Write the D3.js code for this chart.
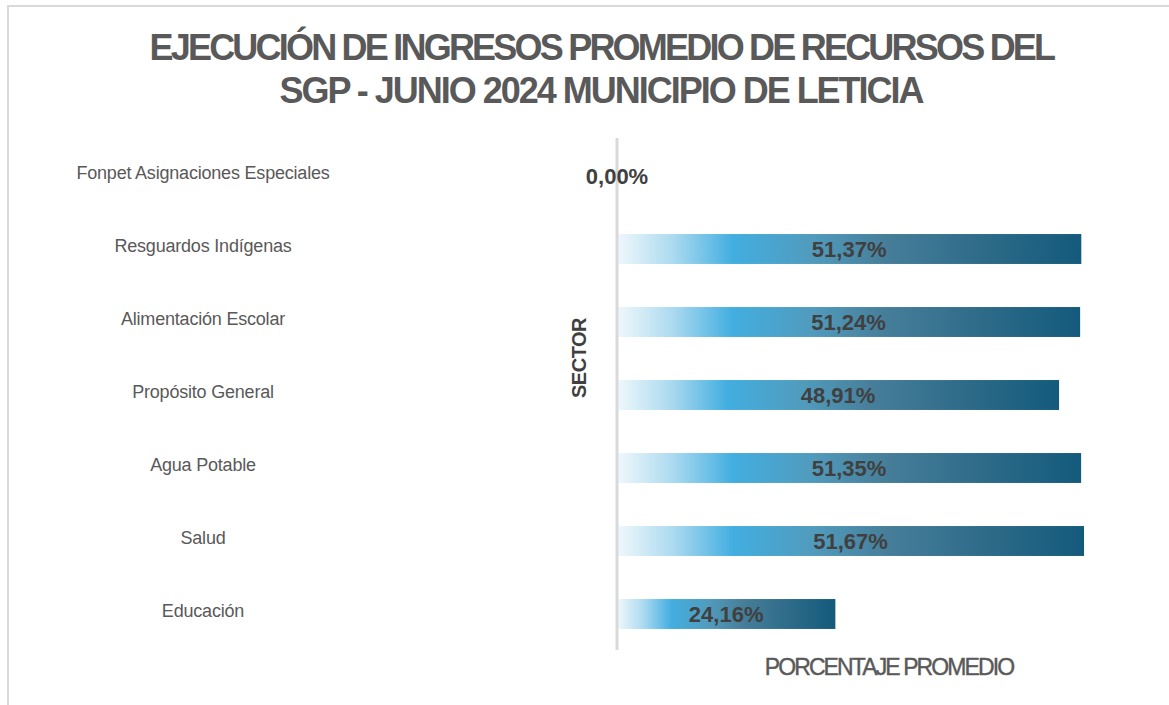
<!DOCTYPE html>
<html>
<head>
<meta charset="utf-8">
<script src="https://cdn.jsdelivr.net/npm/d3@7"></script>
<style>
  body { margin: 0; background: #fff; }
  text { font-family: "Liberation Sans", Arial, sans-serif; }
</style>
</head>
<body>
<div id="chart-area"></div>
<script>
// data
var sectores = ["Fonpet Asignaciones Especiales", "Resguardos Indígenas", "Alimentación Escolar",
  "Propósito General", "Agua Potable", "Salud", "Educación"];
var porcentajes = [0.00, 51.37, 51.24, 48.91, 51.35, 51.67, 24.16];
var etiquetas = ["0,00%", "51,37%", "51,24%", "48,91%", "51,35%", "51,67%", "24,16%"];
var titulo = ["EJECUCIÓN DE INGRESOS PROMEDIO DE RECURSOS DEL", "SGP - JUNIO 2024 MUNICIPIO DE LETICIA"];
var anchoTitulo = [904, 643];

var width = 1169, height = 705;

var svg = d3.select("#chart-area").append("svg")
  .attr("width", width)
  .attr("height", height);

// chart frame
svg.append("rect")
  .attr("x", 8).attr("y", 6)
  .attr("width", width + 10).attr("height", height)
  .attr("fill", "none")
  .attr("stroke", "#d9d9d9")
  .attr("stroke-width", 2);

var x = d3.scaleLinear().domain([0, 60]).range([617, 617 + 542.3]);
var y = d3.scaleBand().domain(sectores).range([139.5, 650.5])
  .paddingInner(0.59).paddingOuter(0.295);

// gradient for the bars
var grad = svg.append("defs").append("linearGradient")
  .attr("id", "barGrad")
  .attr("x1", "0%").attr("x2", "100%").attr("y1", "0%").attr("y2", "0%");
[[0, "#f0f8fb"], [0.12, "#acdaf0"], [0.25, "#42aee0"], [0.42, "#519bbd"],
 [0.58, "#467e99"], [0.8, "#2c6a88"], [1, "#145a7c"]].forEach(function(s) {
  grad.append("stop").attr("offset", s[0]).attr("stop-color", s[1]);
});

// title, tightened with letter-spacing to the reference width
svg.selectAll(".title").data(titulo).enter().append("text")
  .attr("class", "title")
  .attr("x", 600)
  .attr("y", function(d, i) { return 60 + i * 43; })
  .attr("text-anchor", "middle")
  .attr("font-size", "36px")
  .attr("font-weight", "bold")
  .attr("fill", "#595959")
  .text(function(d) { return d; })
  .each(function(d, i) {
    var natural = this.getComputedTextLength();
    var ls = (anchoTitulo[i] - natural) / d.length;
    d3.select(this).attr("letter-spacing", ls.toFixed(2) + "px")
      .attr("x", 600 - ls / 2);
  });

// bars
svg.selectAll(".bar").data(porcentajes).enter().append("rect")
  .attr("class", "bar")
  .attr("x", x(0))
  .attr("y", function(d, i) { return y(sectores[i]); })
  .attr("width", function(d) { return x(d) - x(0); })
  .attr("height", y.bandwidth())
  .attr("fill", "url(#barGrad)");

// axis line
svg.append("line")
  .attr("x1", x(0)).attr("x2", x(0))
  .attr("y1", 138).attr("y2", 650)
  .attr("stroke", "#d9d9d9")
  .attr("stroke-width", 3);

// category labels
svg.selectAll(".cat").data(sectores).enter().append("text")
  .attr("class", "cat")
  .attr("x", 203)
  .attr("y", function(d) { return y(d) + y.bandwidth() / 2 + 3; })
  .attr("text-anchor", "middle")
  .attr("font-size", "18px")
  .attr("letter-spacing", "-0.2px")
  .attr("fill", "#595959")
  .text(function(d) { return d; });

// value labels
svg.selectAll(".val").data(porcentajes).enter().append("text")
  .attr("class", "val")
  .attr("x", function(d) { return (x(0) + x(d)) / 2; })
  .attr("y", function(d, i) { return y(sectores[i]) + y.bandwidth() / 2 + 8; })
  .attr("text-anchor", "middle")
  .attr("font-size", "22px")
  .attr("font-weight", "bold")
  .attr("fill", "#404040")
  .text(function(d, i) { return etiquetas[i]; });

// axis titles
svg.append("text")
  .attr("transform", "translate(586, 358) rotate(-90)")
  .attr("text-anchor", "middle")
  .attr("font-size", "20px")
  .attr("font-weight", "bold")
  .attr("letter-spacing", "-0.5px")
  .attr("fill", "#404040")
  .text("SECTOR");

svg.append("text")
  .attr("x", 889)
  .attr("y", 675)
  .attr("text-anchor", "middle")
  .attr("font-size", "23px")
  .attr("fill", "#595959")
  .attr("stroke", "#595959")
  .attr("stroke-width", 0.4)
  .attr("letter-spacing", "-1.9px")
  .text("PORCENTAJE PROMEDIO");
</script>
</body>
</html>
